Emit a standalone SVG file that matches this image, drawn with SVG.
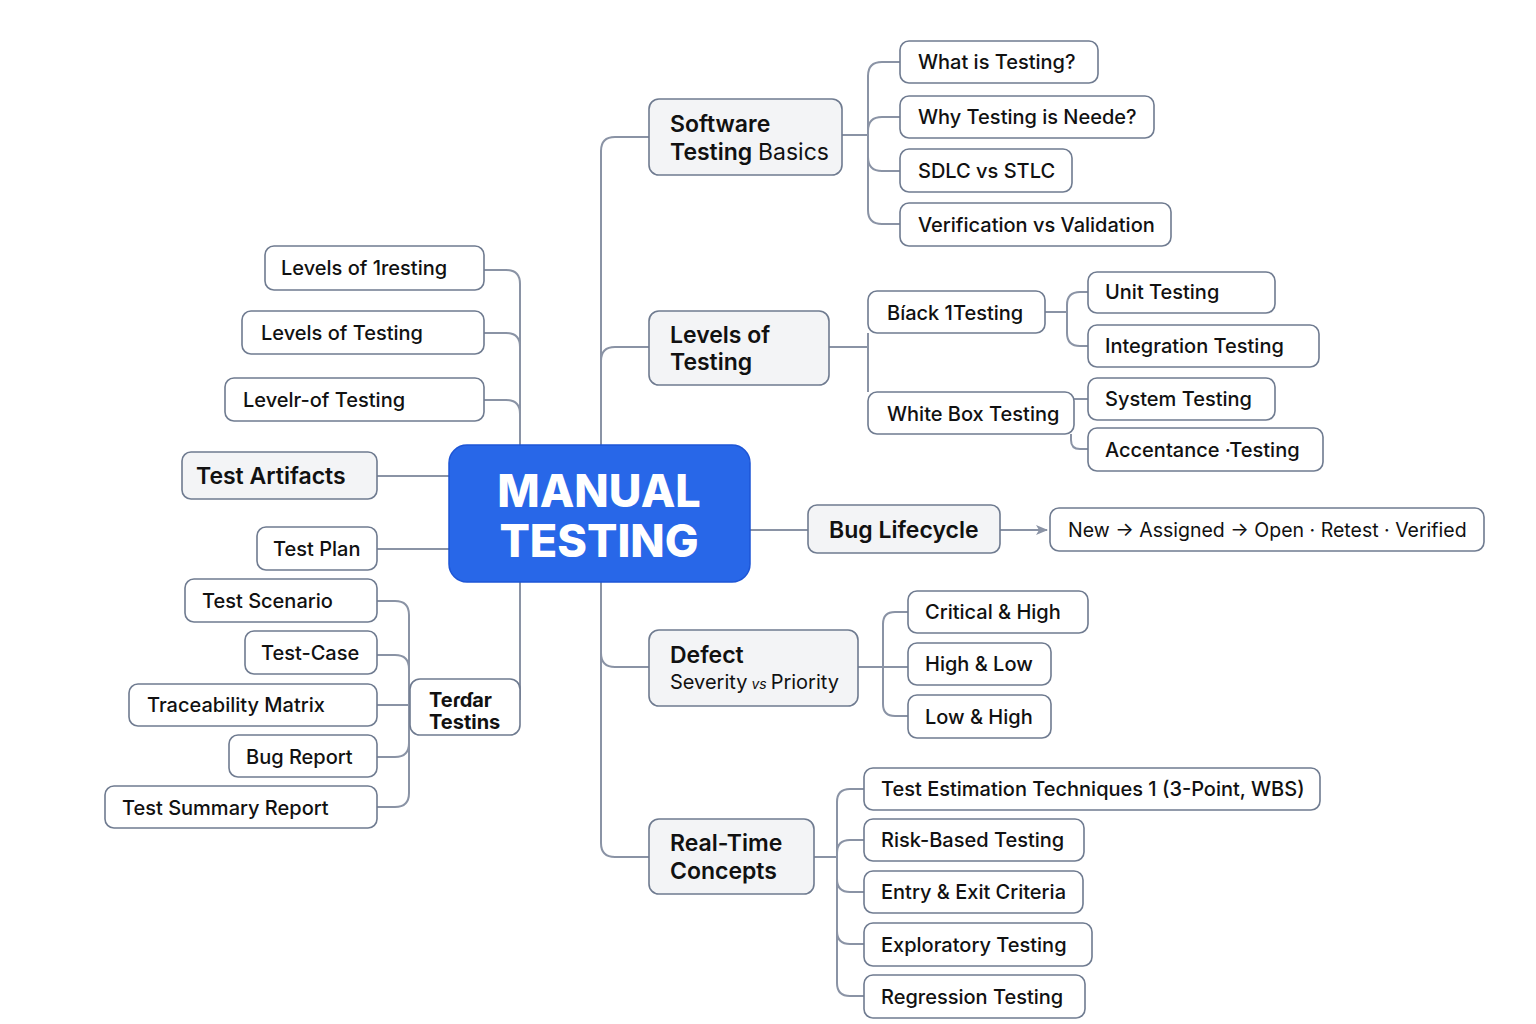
<svg xmlns="http://www.w3.org/2000/svg" width="1536" height="1024" viewBox="0 0 1536 1024">
<defs>
<style>
.bg{fill:#ffffff}
.box{fill:#ffffff;stroke:#6f7b90;stroke-width:1.6}
.cat{fill:#f3f4f6;stroke:#6f7b90;stroke-width:1.6}
.core{fill:#2867e8;stroke:#1d55d6;stroke-width:1.5}
.ln{fill:none;stroke:#8a93a5;stroke-width:2}
text{font-family:"Inter","Liberation Sans",sans-serif;fill:#111111}
.t{font-size:20px;font-weight:500}
.tb{font-size:23px;font-weight:600}
.tr{font-size:20px;font-weight:400}
.core-t{font-size:45px;font-weight:800;fill:#ffffff}
</style>
<marker id="arr" viewBox="0 0 12 10" refX="11" refY="5" markerWidth="12" markerHeight="10" markerUnits="userSpaceOnUse" orient="auto">
<path d="M0,0 L12,5 L0,10 L3,5 Z" fill="#8a93a5"/>
</marker>
</defs>
<rect class="bg" x="0" y="0" width="1536" height="1024"/>

<g id="connectors">
<path class="ln" d="M649 137 H615 Q601 137 601 151 V843 Q601 857 615 857 H649"/>
<path class="ln" d="M649 347 H615 Q601 347 601 361"/>
<path class="ln" d="M601 653 Q601 667 615 667 H649"/>
<path class="ln" d="M484 270 H506 Q520 270 520 284 V700"/>
<path class="ln" d="M484 333 H506 Q520 333 520 347"/>
<path class="ln" d="M484 400 H506 Q520 400 520 414"/>
<path class="ln" d="M377 476 H449"/>
<path class="ln" d="M377 549 H449"/>
<path class="ln" d="M377 601 H395 Q409 601 409 615 V793 Q409 807 395 807 H377"/>
<path class="ln" d="M377 655 H395 Q409 655 409 669"/>
<path class="ln" d="M409 743 Q409 757 395 757 H377"/>
<path class="ln" d="M377 705 H410"/>
<path class="ln" d="M842 135 H868"/>
<path class="ln" d="M900 62 H882 Q868 62 868 76 V210 Q868 224 882 224 H900"/>
<path class="ln" d="M900 117 H882 Q868 117 868 131"/>
<path class="ln" d="M868 157 Q868 171 882 171 H900"/>
<path class="ln" d="M829 347 H868"/>
<path class="ln" d="M868 333 V392"/>
<path class="ln" d="M1045 312 H1067"/>
<path class="ln" d="M1088 292 H1080 Q1067 292 1067 305 V333 Q1067 346 1080 346 H1088"/>
<path class="ln" d="M1050 399 H1088"/>
<path class="ln" d="M1071 434 V440 Q1071 449 1080 449 H1088"/>
<path class="ln" d="M750 530 H808"/>
<path class="ln" d="M1000 530 H1047" marker-end="url(#arr)"/>
<path class="ln" d="M858 667 H908"/>
<path class="ln" d="M908 612 H895 Q883 612 883 624 V704 Q883 716 895 716 H908"/>
<path class="ln" d="M814 857 H837"/>
<path class="ln" d="M864 789 H850 Q837 789 837 802 V983 Q837 996 850 996 H864"/>
<path class="ln" d="M864 840 H850 Q837 840 837 853"/>
<path class="ln" d="M837 879 Q837 892 850 892 H864"/>
<path class="ln" d="M837 931 Q837 944 850 944 H864"/>
</g>

<g id="core">
<rect class="core" x="449" y="445" width="301" height="137" rx="18"/>
<text class="core-t" x="599" y="507" text-anchor="middle">MANUAL</text>
<text class="core-t" x="599" y="557" text-anchor="middle">TESTING</text>
</g>

<!-- left side -->
<g id="n-levels1"><rect class="box" x="265" y="246" width="219" height="44" rx="9"/><text class="t" x="281" y="275">Levels of 1resting</text></g>
<g id="n-levels2"><rect class="box" x="242" y="311" width="242" height="43" rx="9"/><text class="t" x="261" y="340">Levels of Testing</text></g>
<g id="n-levels3"><rect class="box" x="225" y="378" width="259" height="43" rx="9"/><text class="t" x="243" y="407">Levelr-of Testing</text></g>
<g id="n-artifacts"><rect class="cat" x="182" y="452" width="195" height="47" rx="9"/><text class="tb" x="196" y="484">Test Artifacts</text></g>
<g id="n-plan"><rect class="box" x="257" y="527" width="120" height="43" rx="9"/><text class="t" x="273" y="556">Test Plan</text></g>
<g id="n-scenario"><rect class="box" x="185" y="579" width="192" height="43" rx="9"/><text class="t" x="202" y="608">Test Scenario</text></g>
<g id="n-case"><rect class="box" x="245" y="631" width="132" height="43" rx="9"/><text class="t" x="261" y="660">Test-Case</text></g>
<g id="n-trace"><rect class="box" x="129" y="684" width="248" height="42" rx="9"/><text class="t" x="147" y="712">Traceability Matrix</text></g>
<g id="n-bugreport"><rect class="box" x="229" y="735" width="148" height="42" rx="9"/><text class="t" x="246" y="764">Bug Report</text></g>
<g id="n-summary"><rect class="box" x="105" y="786" width="272" height="42" rx="9"/><text class="t" x="122" y="815">Test Summary Report</text></g>
<g id="n-tender"><rect class="box" x="410" y="679" width="110" height="56" rx="10"/><text class="t" x="429" y="707" style="font-weight:700">Teɾɗar</text><text class="t" x="429" y="729" style="font-weight:700">Testins</text></g>

<!-- right side -->
<g id="n-basics"><rect class="cat" x="649" y="99" width="193" height="76" rx="10"/><text class="tb" x="670" y="132">Software</text><text class="tb" x="670" y="160">Testing <tspan style="font-weight:400">Basics</tspan></text></g>
<g id="n-what"><rect class="box" x="900" y="41" width="198" height="42" rx="9"/><text class="t" x="918" y="69">What is Testing?</text></g>
<g id="n-why"><rect class="box" x="900" y="96" width="254" height="42" rx="9"/><text class="t" x="918" y="124">Why Testing is Neede?</text></g>
<g id="n-sdlc"><rect class="box" x="900" y="149" width="172" height="43" rx="9"/><text class="t" x="918" y="178">SDLC vs STLC</text></g>
<g id="n-verif"><rect class="box" x="900" y="203" width="271" height="43" rx="9"/><text class="t" x="918" y="232">Verification vs Validation</text></g>

<g id="n-levels-r"><rect class="cat" x="649" y="311" width="180" height="74" rx="10"/><text class="tb" x="670" y="343">Levels of</text><text class="tb" x="670" y="370">Testing</text></g>
<g id="n-black"><rect class="box" x="868" y="291" width="177" height="42" rx="9"/><text class="t" x="887" y="320">Bíack 1Testing</text></g>
<g id="n-white"><rect class="box" x="868" y="392" width="206" height="42" rx="9"/><text class="t" x="887" y="421">White Box Testing</text></g>
<g id="n-unit"><rect class="box" x="1088" y="272" width="187" height="41" rx="9"/><text class="t" x="1105" y="299">Unit Testing</text></g>
<g id="n-integ"><rect class="box" x="1088" y="325" width="231" height="42" rx="9"/><text class="t" x="1105" y="353">Integration Testing</text></g>
<g id="n-system"><rect class="box" x="1088" y="378" width="187" height="42" rx="9"/><text class="t" x="1105" y="406">System Testing</text></g>
<g id="n-accept"><rect class="box" x="1088" y="428" width="235" height="43" rx="9"/><text class="t" x="1105" y="457">Accentance ·Testing</text></g>

<g id="n-bug"><rect class="cat" x="808" y="505" width="192" height="48" rx="9"/><text class="tb" x="829" y="538">Bug Lifecycle</text></g>
<g id="n-flow"><rect class="box" x="1050" y="508" width="434" height="43" rx="9"/><text class="t" x="1068" y="537" style="font-weight:400;font-size:19.5px">New → Assigned → Open · Retest · Verified</text></g>

<g id="n-defect"><rect class="cat" x="649" y="630" width="209" height="76" rx="10"/><text class="tb" x="670" y="663">Defect</text><text class="tr" x="670" y="689">Severity<tspan style="font-style:italic;font-size:14px"> vs </tspan>Priority</text></g>
<g id="n-crit"><rect class="box" x="908" y="591" width="180" height="42" rx="9"/><text class="t" x="925" y="619">Critical &amp; High</text></g>
<g id="n-highlow"><rect class="box" x="908" y="643" width="143" height="42" rx="9"/><text class="t" x="925" y="671">High &amp; Low</text></g>
<g id="n-lowhigh"><rect class="box" x="908" y="695" width="143" height="43" rx="9"/><text class="t" x="925" y="724">Low &amp; High</text></g>

<g id="n-realtime"><rect class="cat" x="649" y="819" width="165" height="75" rx="10"/><text class="tb" x="670" y="851">Real-Time</text><text class="tb" x="670" y="879">Concepts</text></g>
<g id="n-estim"><rect class="box" x="864" y="768" width="456" height="42" rx="9"/><text class="t" x="881" y="796">Test Estimation Techniques 1 (3-Point, WBS)</text></g>
<g id="n-risk"><rect class="box" x="864" y="819" width="220" height="42" rx="9"/><text class="t" x="881" y="847">Risk-Based Testing</text></g>
<g id="n-entry"><rect class="box" x="864" y="871" width="219" height="42" rx="9"/><text class="t" x="881" y="899">Entry &amp; Exit Criteria</text></g>
<g id="n-explor"><rect class="box" x="864" y="923" width="228" height="43" rx="9"/><text class="t" x="881" y="952">Exploratory Testing</text></g>
<g id="n-regress"><rect class="box" x="864" y="975" width="221" height="43" rx="9"/><text class="t" x="881" y="1004">Regression Testing</text></g>
</svg>
